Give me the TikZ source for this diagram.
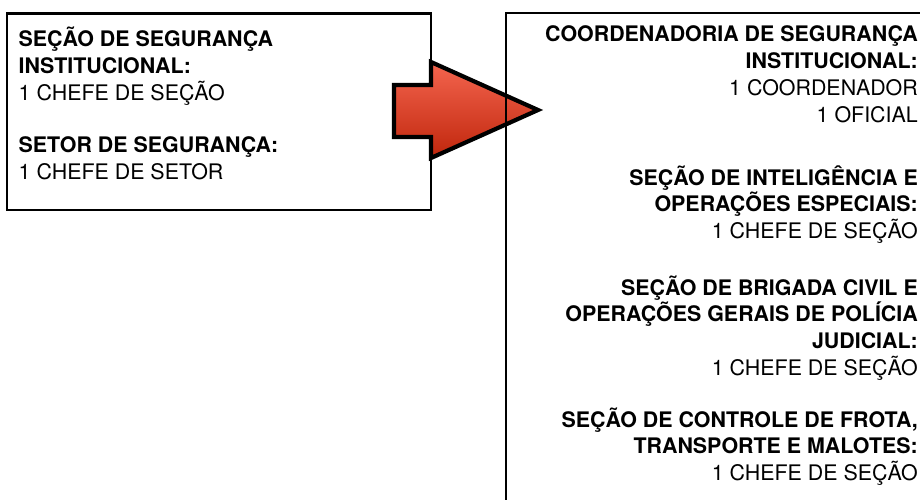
\documentclass[tikz,border=0pt]{standalone}
\usepackage{fontspec}
\setmainfont{TeX Gyre Heros}
\newcommand\leftlines[1]{\vtop{\halign{##\hfil\cr#1\crcr}}}
\newcommand\rightlines[1]{\vtop{\halign{\hfil##\cr#1\crcr}}}
\definecolor{arrowtop}{HTML}{F4654F}
\definecolor{arrowbot}{HTML}{C0260C}
\begin{document}
\begin{tikzpicture}[x=1pt,y=-1pt,
  oldbox/.style={draw=black, line width=2.7pt, minimum width=424pt, minimum height=196pt, anchor=north west, inner sep=0pt},
  newbox/.style={draw=black, line width=2pt, minimum width=500pt, minimum height=600pt, anchor=north west, inner sep=0pt},
  bigarrow/.style={draw=black, line width=4.2pt, line join=miter, miter limit=10, top color=arrowtop, bottom color=arrowbot},
  txt/.style={inner sep=0pt, font=\fontsize{21.4}{26.7}\selectfont}]
\useasboundingbox (0,0) rectangle (920,500);
\clip (0,0) rectangle (920,500);
\fill[white] (0,0) rectangle (920,500);
% old structure box
\node[oldbox] (old) at (5.5,12.5) {};
\node[txt, anchor=base west] (o1) at (18.5,47) {\leftlines{\textbf{SEÇÃO DE SEGURANÇA}\cr\textbf{INSTITUCIONAL:}\cr 1 CHEFE DE SEÇÃO}};
\node[txt, anchor=base west] (o2) at (18.5,152.5) {\leftlines{\textbf{SETOR DE SEGURANÇA:}\cr 1 CHEFE DE SETOR}};
% arrow
\draw[bigarrow] (394,85) -- (431,85) -- (431,62) -- (538,110) -- (431,158) -- (431,137) -- (394,137) -- cycle;
% new structure box
\node[newbox] (new) at (505,12) {};
\node[txt, anchor=base east] (n1) at (918,42) {\rightlines{\textbf{COORDENADORIA DE SEGURANÇA}\cr\textbf{INSTITUCIONAL:}\cr 1 COORDENADOR\cr 1 OFICIAL}};
\node[txt, anchor=base east] (n2) at (918,185) {\rightlines{\textbf{SEÇÃO DE INTELIGÊNCIA E}\cr\textbf{OPERAÇÕES ESPECIAIS:}\cr 1 CHEFE DE SEÇÃO}};
\node[txt, anchor=base east] (n3) at (918,295) {\rightlines{\textbf{SEÇÃO DE BRIGADA CIVIL E}\cr\textbf{OPERAÇÕES GERAIS DE POLÍCIA}\cr\textbf{JUDICIAL:}\cr 1 CHEFE DE SEÇÃO}};
\node[txt, anchor=base east] (n4) at (918,427) {\rightlines{\textbf{SEÇÃO DE CONTROLE DE FROTA,}\cr\textbf{TRANSPORTE E MALOTES:}\cr 1 CHEFE DE SEÇÃO}};
\end{tikzpicture}
\end{document}
